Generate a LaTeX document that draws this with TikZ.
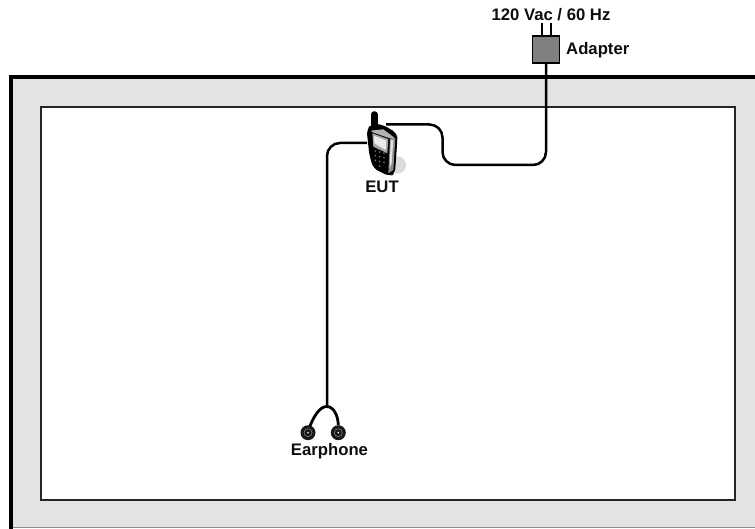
\documentclass[tikz,border=0pt]{standalone}
\usepackage{fontspec}
\setmainfont{Liberation Sans}
\begin{document}
\begin{tikzpicture}[x=1pt,y=-1pt,
  lab/.style={font=\fontsize{16.7}{18}\selectfont\bfseries,inner sep=0pt,text=black!95},
  cable/.style={draw=black,line width=2.5pt,rounded corners=13pt},
  bud/.style={circle,fill=black!90,minimum size=15pt,inner sep=0pt},
  plug/.style={draw=black,line width=1.7pt}]
\useasboundingbox (0,0) rectangle (755,529);
\fill[black!11] (11,77) rectangle (755,527.5);
\draw[black!45,line width=1pt] (11,527.8) -- (755,527.8);
\draw[black,line width=4.3pt] (755,76.7) -- (11.2,76.7) -- (11.2,529);
\draw[fill=white,draw=black!85,line width=1.4pt] (41,107) rectangle (735,500);
% adapter
\node[draw=black,line width=1.8pt,fill=black!50,minimum width=27pt,minimum height=27.5pt,inner sep=0pt] (adapter) at (546,49.5) {};
\coordinate (pa) at (542,23);
\coordinate (pb) at (550.7,23);
\draw[plug] (pa) -- (pa |- adapter.north);
\draw[plug] (pb) -- (pb |- adapter.north);
\node[lab] at (551,15) {120 Vac / 60 Hz};
\node[lab,anchor=west] at (566,50) {Adapter};
% phone
\coordinate (phR) at (386,124.5);
\coordinate (phL) at (367,143);
\draw[cable] (adapter.south) -- (546,165) -- (442.5,165) -- (442.5,124.5) -- (phR);
\draw[cable] (phL) -- (327,143) -- (327,406);
\begin{scope}[shift={(340,90)},scale=1/3]
\fill[black!14] (172,225) circle (26);
\draw[black,line width=7pt,line cap=round] (102,74) -- (102,105);
\fill[black,rounded corners=5pt] (80,120) -- (95,100) -- (130,105) -- (172,130) -- (172,150) -- (165,250) -- (150,260) -- (100,235) -- (88,195) -- cycle;
\fill[black!30] (92,122) -- (130,118) -- (163,143) -- (150,145) -- (100,128) -- cycle;
\fill[black!45] (150,145) -- (166,144) -- (160,240) -- (145,250) -- cycle;
\fill[black!12] (152,150) -- (160,150) -- (155,220) -- (149,235) -- cycle;
\fill[black!35] (97,130) -- (145,147) -- (142,190) -- (100,170) -- cycle;
\fill[black!8] (102,137) -- (139,152) -- (137,180) -- (103,160) -- cycle;
\foreach \c/\r in {0/0,1/0,2/0,0/1,1/1,2/1,0/2,1/2,2/2,1/3}{
  \fill[black!50] ({106+\c*13},{183+\r*14+\c*3}) circle (2.6);
}
\end{scope}
\node[lab] at (382,187) {EUT};
% earphone
\node[bud] (budL) at (308,432.7) {};
\node[bud] (budR) at (338.3,432.7) {};
\foreach \b in {budL,budR}{
  \draw[black!45,line width=.5pt] (\b) circle (4pt);
  \fill[white] (\b) circle (.9pt);
}
\coordinate (fork) at (326.7,406.5);
\draw[black,line width=2.8pt] (budL.north) ++(2,1) .. controls (314,416) and (320,406.5) .. (fork) .. controls (334,406.5) and (338,416) .. (budR.north);
\node[lab] at (329.5,451) {Earphone};
\end{tikzpicture}
\end{document}
